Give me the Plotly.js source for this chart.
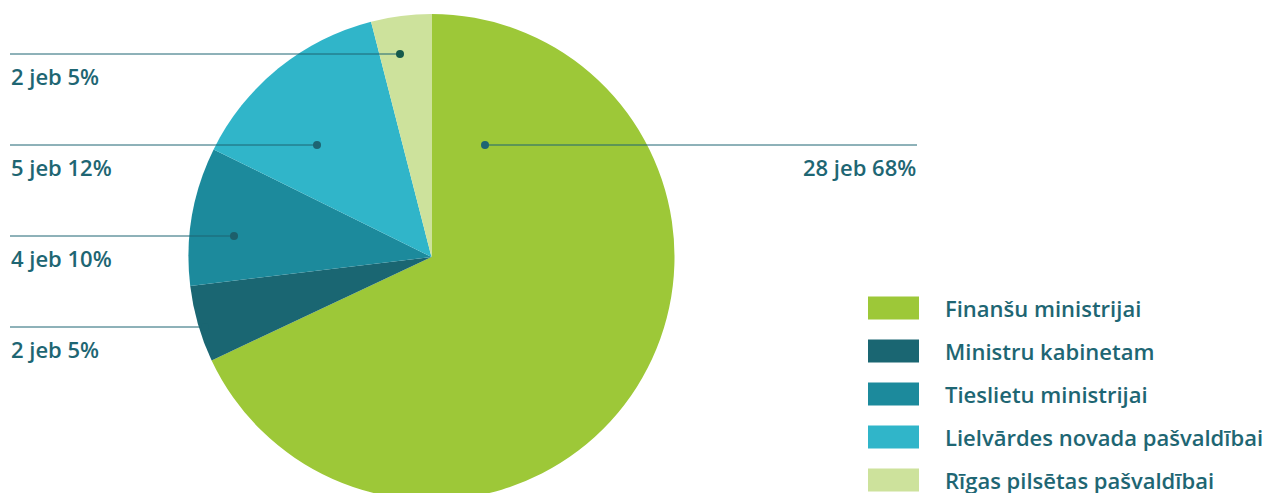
<!DOCTYPE html>
<html><head><meta charset="utf-8">
<script src="https://cdn.plot.ly/plotly-3.0.1.min.js"></script>
<style>html,body{margin:0;padding:0;overflow:hidden;background:#fff;width:1268px;height:493px}#chart{width:1268px;height:510px}</style>
</head><body><div id="chart"></div>
<script>
const categories = ["Finanšu ministrijai","Ministru kabinetam","Tieslietu ministrijai","Lielvārdes novada pašvaldībai","Rīgas pilsētas pašvaldībai"];
// counts shown in the labels
const counts = [28, 2, 4, 5, 2];
const percents = [68, 5, 10, 12, 5];
// slice shares as drawn in the picture (percent of the circle)
const sliceShares = [68, 5.1, 9.2, 13.7, 4];
const colors = ["#9dc838","#1a6672","#1c8a9c","#30b5c9","#cde29c"];
const labelTexts = counts.map((c, i) => c + " jeb " + percents[i] + "%");

const W = 1268, H = 510;
const px = x => x / W, py = y => (H - y) / H;
const textColor = "#1e6673";
const font = {family: "Open Sans, sans-serif", size: 22, color: textColor, weight: 600};

// leader line layout: [lineY, x0, x1, dotX, textX, anchor, dotColor]
const leaders = [
  [145, 485, 917, 485, 918, "right", "#1d6473"],
  [327, 10, 205, 205, 9, "left", "#1a6672"],
  [236, 10, 234, 234, 9, "left", "#1d5f6b"],
  [145, 10, 317, 317, 9, "left", "#1d6473"],
  [54, 10, 400, 400, 9, "left", "#155a4c"]
];
const shapes = [], annotations = [];
leaders.forEach((l, i) => {
  shapes.push({type: "line", xref: "paper", yref: "paper", x0: px(l[1]), x1: px(l[2]), y0: py(l[0]), y1: py(l[0]), line: {color: "#1d6473", width: 1}, layer: "above"});
  shapes.push({type: "circle", xref: "paper", yref: "paper", x0: px(l[3]-4), x1: px(l[3]+4), y0: py(l[0]+4), y1: py(l[0]-4), fillcolor: l[6], line: {width: 0}, layer: "above"});
  annotations.push({xref: "paper", yref: "paper", x: px(l[4]), y: py(l[0]+22), xanchor: l[5], yanchor: "middle", text: labelTexts[i], showarrow: false, font: font});
});
// legend
categories.forEach((c, i) => {
  const cy = 308 + i * 43;
  shapes.push({type: "rect", xref: "paper", yref: "paper", x0: px(868), x1: px(919), y0: py(cy+11.5), y1: py(cy-11.5), fillcolor: colors[i], line: {width: 0}});
  annotations.push({xref: "paper", yref: "paper", x: px(943), y: py(cy), xanchor: "left", yanchor: "middle", text: c, showarrow: false, font: font});
});

Plotly.newPlot("chart", [{
  type: "pie", values: sliceShares, labels: categories, sort: false, direction: "clockwise", rotation: 0,
  marker: {colors: colors, line: {width: 0}}, textinfo: "none", hoverinfo: "label",
  domain: {x: [px(188.5), px(674.5)], y: [py(500), py(14)]}
}], {
  width: W, height: H, margin: {l: 0, r: 0, t: 0, b: 0}, showlegend: false,
  paper_bgcolor: "#fff", shapes: shapes, annotations: annotations
}, {displayModeBar: false, staticPlot: true});
</script></body></html>
